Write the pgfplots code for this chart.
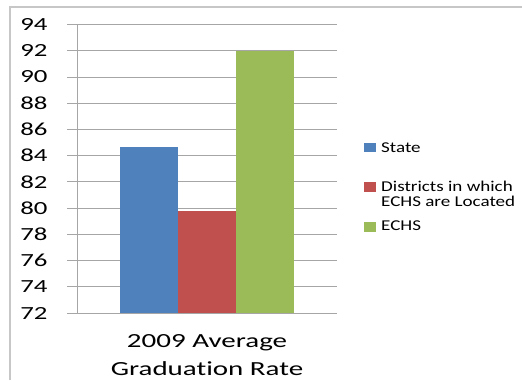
\documentclass[border=0pt]{standalone}
\usepackage{pgfplots}
\pgfplotsset{compat=1.18}
\usepackage{fontspec}
\setmainfont[FakeStretch=1.45, Ligatures=NoCommon]{Carlito}
\newfontfamily\legfont[FakeStretch=1.27, Ligatures=NoCommon]{Carlito}
\definecolor{xlblue}{HTML}{4F81BD}
\definecolor{xlred}{HTML}{C0504D}
\definecolor{xlgreen}{HTML}{9BBB59}
\definecolor{gridc}{HTML}{A6A6A6}
\begin{document}
\begin{tikzpicture}[x=1bp,y=1bp]
\path[use as bounding box] (0,0) rectangle (522,380);
\draw[color=black!22, line width=1.2bp] (10,0) -- (10,373) -- (522,373);
\begin{axis}[
  at={(77bp,67bp)}, anchor=south west,
  scale only axis, width=260bp, height=288.5bp,
  xmin=-1, xmax=1, ymin=72, ymax=94,
  ytick={72,74,...,94},
  xtick={0}, xticklabels={},
  major x tick style={draw=none},
  extra x ticks={-1,1}, extra x tick labels={},
  extra x tick style={major tick length=6bp, tick style={gridc, line width=0.8bp}},
  ymajorgrids, grid style={gridc, line width=0.8bp},
  axis x line*=bottom, axis y line*=left,
  axis line style={gridc, line width=0.8bp, -},
  tick style={gridc, line width=0.8bp},
  tick align=outside, major tick length=10bp,
  /pgf/number format/assume math mode=true,
  yticklabel style={font=\fontsize{18.5bp}{20bp}\selectfont, text=black, xshift=-16bp},
  ybar=0pt, bar width=58bp,
  clip=true,
]
\addplot[fill=xlblue, draw=none] coordinates {(0,84.65)};
\addplot[fill=xlred, draw=none] coordinates {(0,79.8)};
\addplot[fill=xlgreen, draw=none] coordinates {(0,92.0)};
\end{axis}
\node[anchor=base, font=\fontsize{20bp}{24bp}\selectfont] at (207,33) {2009 Average};
\node[anchor=base, font=\fontsize{20bp}{24bp}\selectfont] at (207,5) {Graduation Rate};
\fill[xlblue] (364,227.7) rectangle (376,237.3);
\fill[xlred] (364,188.3) rectangle (376,198.3);
\fill[xlgreen] (364,148.3) rectangle (376,158);
\begin{scope}[every node/.style={anchor=base west, inner sep=0pt, font=\legfont\fontsize{15bp}{15bp}\selectfont}]
\node at (381,227.7) {State};
\node at (381,188.3) {Districts in which};
\node at (381,173.3) {ECHS are Located};
\node at (381,149.3) {ECHS};
\end{scope}
\end{tikzpicture}
\end{document}
